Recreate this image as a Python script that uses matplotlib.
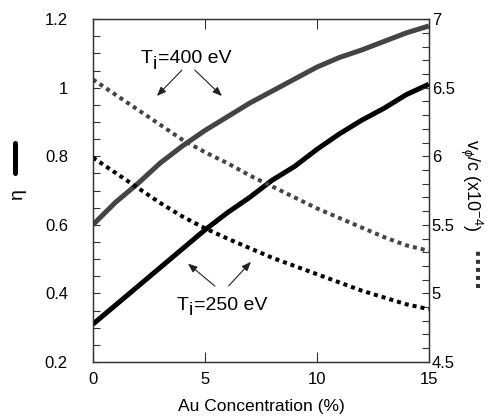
import numpy as np
import matplotlib
matplotlib.use('Agg')
import matplotlib.pyplot as plt
from matplotlib.lines import Line2D
from matplotlib.ticker import MultipleLocator
from matplotlib.transforms import offset_copy

plt.rcParams['font.family'] = ['Liberation Sans', 'DejaVu Sans']
plt.rcParams['mathtext.fontset'] = 'custom'
plt.rcParams['mathtext.rm'] = 'Liberation Sans'
plt.rcParams['mathtext.it'] = 'Liberation Sans:italic'

# Au concentration (%)
au = [0, 1, 2, 3, 4, 5, 6, 7, 8, 9, 10, 11, 12, 13, 14, 15]

# eta (left axis), solid curves
eta_400 = [0.60, 0.665, 0.72, 0.78, 0.83, 0.875, 0.915, 0.955, 0.99, 1.025,
           1.06, 1.088, 1.11, 1.135, 1.16, 1.18]
eta_250 = [0.31, 0.365, 0.42, 0.475, 0.53, 0.585, 0.635, 0.68, 0.73, 0.77,
           0.82, 0.865, 0.905, 0.94, 0.98, 1.01]

# v_phi/c x1e-4 (right axis), dotted curves
vphi_400 = [6.56, 6.45, 6.34, 6.23, 6.12, 6.03, 5.95, 5.86, 5.78, 5.70,
            5.62, 5.55, 5.48, 5.41, 5.35, 5.31]
vphi_250 = [5.99, 5.88, 5.77, 5.66, 5.56, 5.475, 5.40, 5.33, 5.26, 5.20,
            5.14, 5.08, 5.02, 4.97, 4.92, 4.885]

gray = '#444444'
fs_note = 14


def ti_label(ax, x, y, rest):
    # "T" + lowered full-size "i" + rest, like the original figure
    ax.text(x, y, 'T', fontsize=fs_note, ha='left', va='baseline')
    tr = offset_copy(ax.transData, fig=ax.figure, x=8.6, y=-4, units='points')
    ax.text(x, y, 'i', fontsize=fs_note, ha='left', va='baseline', transform=tr)
    tr = offset_copy(ax.transData, fig=ax.figure, x=12.0, y=0, units='points')
    ax.text(x, y, rest, fontsize=fs_note, ha='left', va='baseline', transform=tr)


fig = plt.figure(figsize=(4.89, 4.16), dpi=100)
ax = fig.add_axes([0.190, 0.130, 0.687, 0.824])
ax2 = ax.twinx()

ax.plot(au, eta_400, color=gray, lw=3.6, solid_capstyle='butt', zorder=3)
ax.plot(au, eta_250, color='black', lw=3.6, solid_capstyle='butt', zorder=3)
ax2.plot(au, vphi_400, color=gray, lw=2.9, linestyle=(0, (1, 1)),
         dash_capstyle='butt')
ax2.plot(au, vphi_250, color='black', lw=2.9, linestyle=(0, (1, 1)),
         dash_capstyle='butt')

ax.set_xlim(0, 15)
ax.set_ylim(0.2, 1.2)
ax2.set_ylim(4.5, 7)

ax.xaxis.set_major_locator(MultipleLocator(5))
ax.yaxis.set_minor_locator(MultipleLocator(0.05))
ax2.yaxis.set_minor_locator(MultipleLocator(0.1))
ax.set_yticks([0.2, 0.4, 0.6, 0.8, 1.0, 1.2])
ax.set_yticklabels(['0.2', '0.4', '0.6', '0.8', '1', '1.2'])
ax2.set_yticks([4.5, 5, 5.5, 6, 6.5, 7])
ax2.set_yticklabels(['4.5', '5', '5.5', '6', '6.5', '7'])

ax.tick_params(axis='x', direction='in', top=True, length=7, width=0.8,
               labelsize=12, pad=7, colors='#333333', labelcolor='black')
ax.tick_params(axis='y', which='both', direction='in', length=5, width=0.8,
               labelsize=12, pad=18, colors='#333333', labelcolor='black')
ax2.tick_params(axis='y', which='both', direction='in', length=5, width=0.8,
                labelsize=12, pad=2, colors='#333333', labelcolor='black')
for a in (ax, ax2):
    for s in a.spines.values():
        s.set_linewidth(0.9)
        s.set_color('#333333')

ax.set_xlabel('Au Concentration (%)', fontsize=12.5, labelpad=9)

# annotations
arrow = dict(arrowstyle='-|>,head_length=0.55,head_width=0.22', lw=0.8, color='#222222')
ti_label(ax, 2.15, 1.072, '=400 eV')
ax.annotate('', xy=(2.77, 0.970), xytext=(4.06, 1.057), arrowprops=arrow)
ax.annotate('', xy=(5.85, 0.970), xytext=(4.46, 1.057), arrowprops=arrow)

ti_label(ax, 3.75, 0.352, '=250 eV')
ax.annotate('', xy=(4.15, 0.492), xytext=(5.54, 0.416), arrowprops=arrow)
ax.annotate('', xy=(7.14, 0.498), xytext=(5.98, 0.416), arrowprops=arrow)

# axis labels with line-style keys
fig.text(0.035, 0.534, 'η', rotation=90, fontsize=14, ha='center', va='center')
fig.add_artist(Line2D([0.031, 0.031], [0.584, 0.656], color='black', lw=3.6,
                      solid_capstyle='round', transform=fig.transFigure))
fig.text(0.963, 0.555, r'v$_\phi$/c (x10$^{-4}$)', rotation=270, fontsize=13,
         ha='center', va='center')
fig.add_artist(Line2D([0.977, 0.977], [0.308, 0.399], color='#333333', lw=2.9,
                      linestyle=(0, (1, 1)), dash_capstyle='butt',
                      transform=fig.transFigure))

fig.savefig('out.png', dpi=100)
